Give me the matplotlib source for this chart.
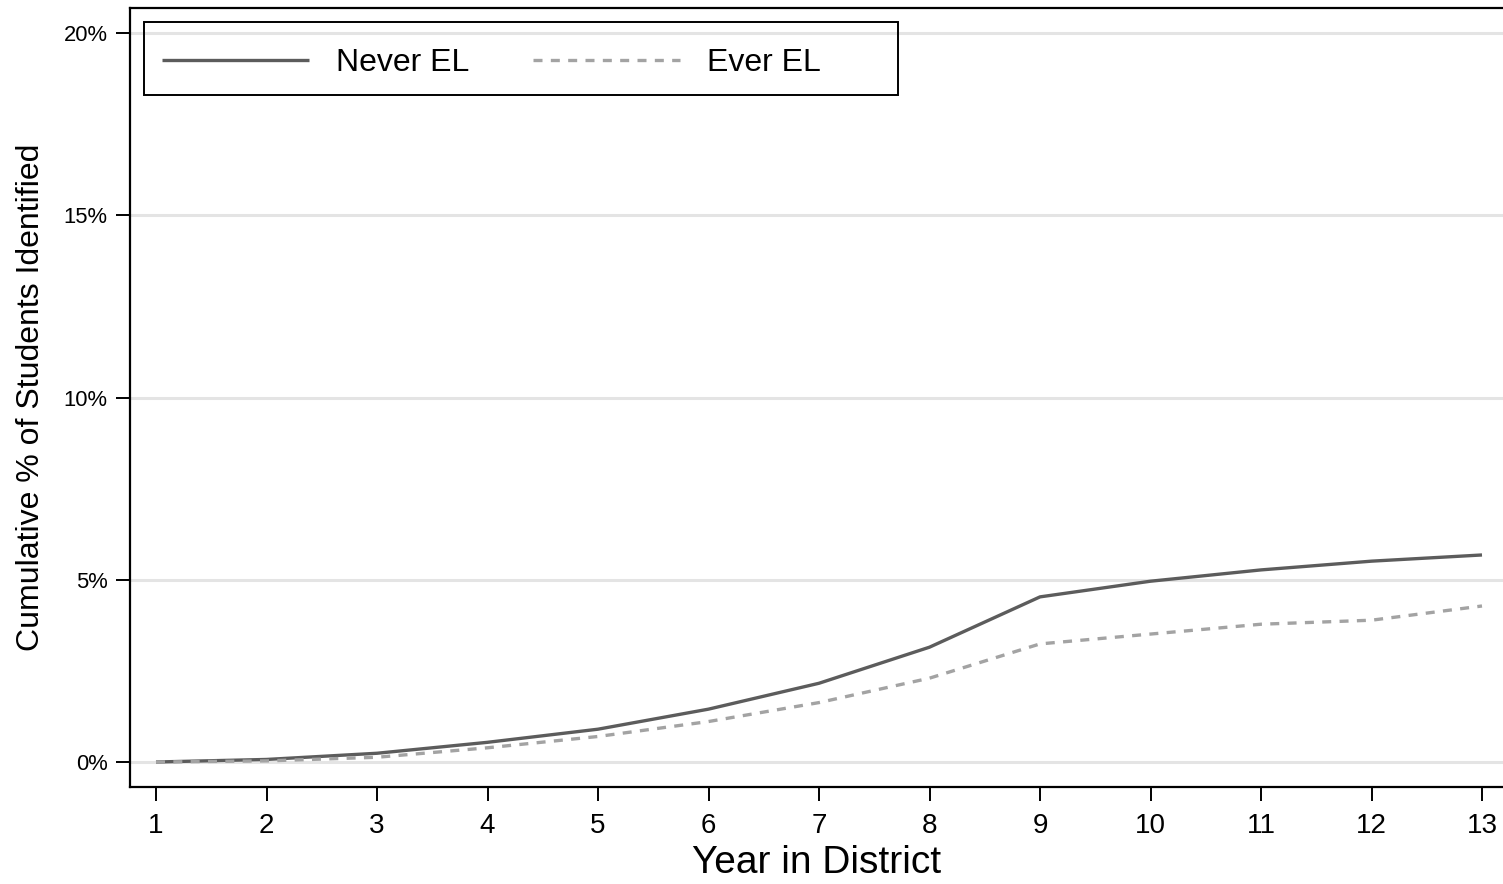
import matplotlib
matplotlib.use("Agg")
import matplotlib.pyplot as plt
from matplotlib.patches import Rectangle
from matplotlib.ticker import FuncFormatter

years = [1, 2, 3, 4, 5, 6, 7, 8, 9, 10, 11, 12, 13]
never_el = [0.0, 0.07, 0.24, 0.54, 0.90, 1.45, 2.16, 3.15, 4.53, 4.96, 5.27, 5.51, 5.68]
ever_el = [0.0, 0.03, 0.13, 0.39, 0.70, 1.11, 1.63, 2.30, 3.24, 3.51, 3.78, 3.89, 4.28]
yticks = [0, 5, 10, 15, 20]
labels = ["Never EL", "Ever EL"]

plt.rcParams['font.family'] = ['Liberation Sans', 'DejaVu Sans']

fig = plt.figure(figsize=(15.03, 8.84), dpi=100)
ax = fig.add_axes([130/1503, 1-787/884, 1-130/1503, (787-8)/884])

ax.plot(years, never_el, color="#5c5c5c", lw=2.4, label=labels[0], solid_capstyle='butt', zorder=3)
ax.plot(years, ever_el, color="#a3a3a3", lw=2.4, dashes=(2.7, 2.5), label=labels[1], zorder=3)

ax.set_xlim(1 - 26/110.5, 13 + 21/110.5)
ax.set_ylim(-25/36.45, 20 + 25/36.45)
ax.set_xticks(years)
ax.set_yticks(yticks)
ax.yaxis.set_major_formatter(FuncFormatter(lambda v, p: f"{v:g}%"))
ax.grid(axis='y', color="#e4e4e4", lw=2.2, zorder=0)
ax.set_axisbelow(True)

for s in ['left', 'bottom', 'top']:
    ax.spines[s].set_linewidth(1.6)
    ax.spines[s].set_color('black')
ax.spines['right'].set_visible(False)

ax.tick_params(axis='x', labelsize=20, length=10, width=1.4, pad=9)
ax.tick_params(axis='y', labelsize=15.8, length=10, width=1.4, pad=6)

ax.set_xlabel("Year in District", fontsize=28, labelpad=4)
ax.set_ylabel("Cumulative % of Students Identified", fontsize=23, labelpad=13)

ax.add_patch(Rectangle((14/1373, 1-87/779), 754/1373, 73/779, transform=ax.transAxes,
                       fill=False, edgecolor='black', lw=1.4, zorder=5, clip_on=False))
ax.legend(loc='center left', bbox_to_anchor=(32/1373, 1-55/779), ncol=2, frameon=False,
          fontsize=23, handlelength=4.6, handletextpad=0.84, columnspacing=2.0,
          borderpad=0, borderaxespad=0)

fig.savefig("out.png", dpi=100)
